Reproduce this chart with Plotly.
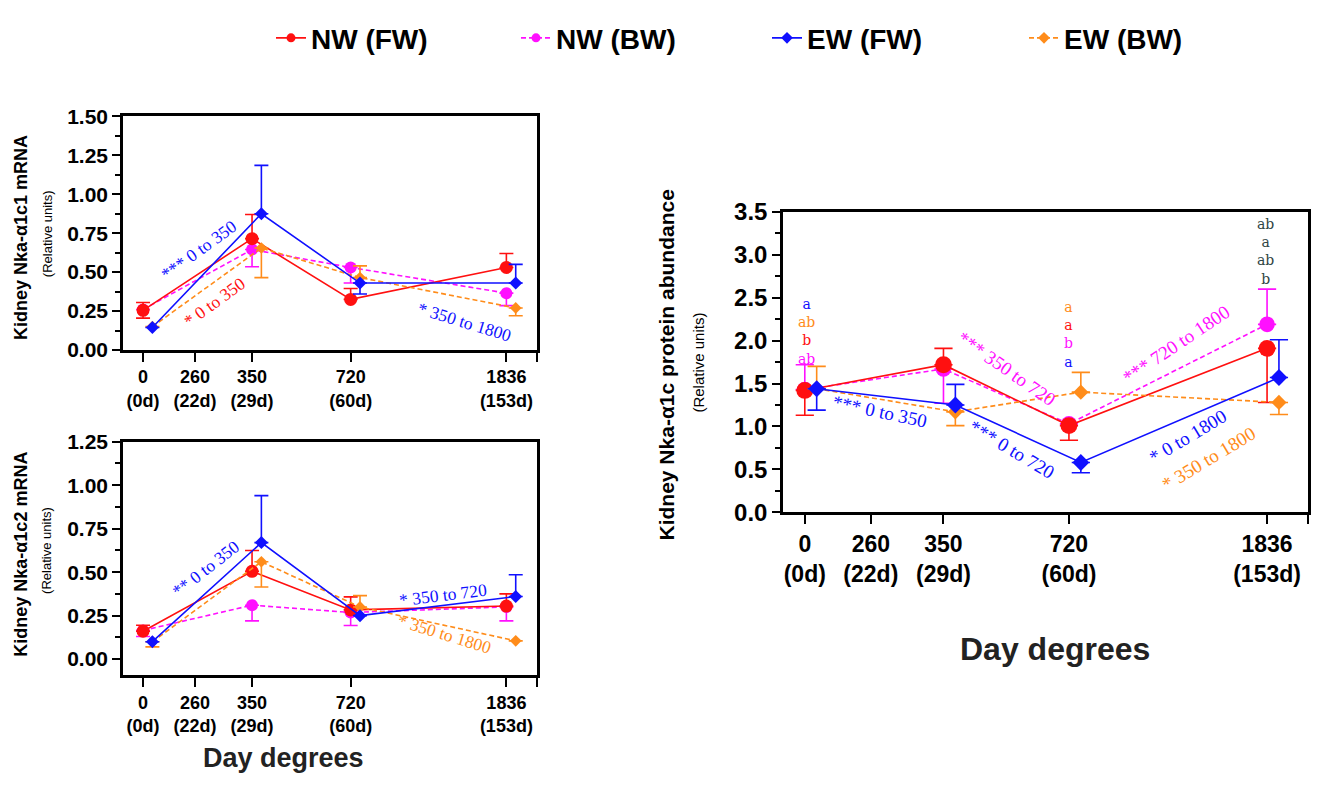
import plotly.graph_objects as go

# ---------------- data ----------------
tick_dd = [0, 260, 350, 720, 1836]
tick_days = ["0d", "22d", "29d", "60d", "153d"]
tick_pos = [0, 1, 2.1, 4, 7]          # category positions on the x axis
sample_dd = [0, 350, 720, 1836]
series = ["NW (FW)", "NW (BW)", "EW (FW)", "EW (BW)"]

# Kidney Nka-α1c1 mRNA (top left)
c1_nw_fw = [0.255, 0.715, 0.325, 0.53]
c1_nw_fw_up = [0.05, 0.155, 0.07, 0.09]
c1_nw_fw_dn = [0.05, 0.0, 0.0, 0.0]
c1_nw_bw = [0.26, 0.645, 0.53, 0.365]
c1_nw_bw_up = [0.0, 0.0, 0.0, 0.0]
c1_nw_bw_dn = [0.0, 0.11, 0.10, 0.08]
c1_ew_fw = [0.145, 0.875, 0.43, 0.43]
c1_ew_fw_up = [0.0, 0.31, 0.0, 0.12]
c1_ew_fw_dn = [0.0, 0.0, 0.07, 0.0]
c1_ew_bw = [0.15, 0.655, 0.465, 0.27]
c1_ew_bw_up = [0.0, 0.0, 0.075, 0.0]
c1_ew_bw_dn = [0.0, 0.19, 0.0, 0.05]

# Kidney Nka-α1c2 mRNA (bottom left)
c2_nw_fw = [0.16, 0.505, 0.283, 0.305]
c2_nw_fw_up = [0.035, 0.12, 0.075, 0.07]
c2_nw_fw_dn = [0.0, 0.0, 0.0, 0.0]
c2_nw_bw = [0.165, 0.31, 0.268, 0.30]
c2_nw_bw_up = [0.0, 0.0, 0.0, 0.0]
c2_nw_bw_dn = [0.035, 0.09, 0.075, 0.08]
c2_ew_fw = [0.10, 0.67, 0.25, 0.36]
c2_ew_fw_up = [0.0, 0.27, 0.0, 0.125]
c2_ew_fw_dn = [0.0, 0.0, 0.0, 0.0]
c2_ew_bw = [0.10, 0.56, 0.30, 0.105]
c2_ew_bw_up = [0.0, 0.0, 0.065, 0.0]
c2_ew_bw_dn = [0.03, 0.145, 0.0, 0.0]

# Kidney Nka-α1c protein abundance (right)
pr_nw_fw = [1.42, 1.72, 1.01, 1.91]
pr_nw_fw_up = [0.0, 0.19, 0.0, 0.0]
pr_nw_fw_dn = [0.29, 0.0, 0.17, 0.63]
pr_nw_bw = [1.43, 1.67, 1.03, 2.19]
pr_nw_bw_up = [0.29, 0.0, 0.0, 0.41]
pr_nw_bw_dn = [0.0, 0.40, 0.0, 0.0]
pr_ew_fw = [1.44, 1.25, 0.58, 1.57]
pr_ew_fw_up = [0.0, 0.24, 0.0, 0.44]
pr_ew_fw_dn = [0.25, 0.0, 0.12, 0.0]
pr_ew_bw = [1.44, 1.17, 1.40, 1.28]
pr_ew_bw_up = [0.26, 0.0, 0.23, 0.0]
pr_ew_bw_dn = [0.0, 0.16, 0.0, 0.14]

# significance notes (text, colour of series)
c1_notes = [("*** 0 to 350", "EW (FW)"), ("* 0 to 350", "NW (FW)"),
            ("* 350 to 1800", "EW (FW)")]
c2_notes = [("** 0 to 350", "EW (FW)"), ("* 350 to 720", "EW (FW)"),
            ("* 350 to 1800", "EW (BW)")]
pr_notes = [("*** 0 to 350", "EW (FW)"), ("*** 350 to 720", "NW (BW)"),
            ("*** 0 to 720", "EW (FW)"), ("*** 720 to 1800", "NW (BW)"),
            ("* 0 to 1800", "EW (FW)"), ("* 350 to 1800", "EW (BW)")]
# letters of significance in the protein panel (top to bottom)
pr_letters_0 = [("a", "EW (FW)"), ("ab", "EW (BW)"), ("b", "NW (FW)"), ("ab", "NW (BW)")]
pr_letters_720 = [("a", "EW (BW)"), ("a", "NW (FW)"), ("b", "NW (BW)"), ("a", "EW (FW)")]
pr_letters_1836 = ["ab", "a", "ab", "b"]

# ---------------- styles / placement ----------------
W, H = 1322, 785
styles = {
    "NW (FW)": dict(color="#ff1010", dash="solid", symbol="circle", off=0.0, size=13),
    "NW (BW)": dict(color="#ff10ff", dash="5px,3px", symbol="circle", off=0.0, size=12),
    "EW (FW)": dict(color="#1010ff", dash="solid", symbol="diamond", off=0.18, size=10),
    "EW (BW)": dict(color="#ff8c1a", dash="5px,3px", symbol="diamond", off=0.18, size=9),
}
# (x, y, angle) placement of the notes in each panel's axis units
c1_note_place = [(1.08, 0.64, -36), (1.38, 0.31, -36), (6.2, 0.18, 17)]
c2_note_place = [(1.2, 0.52, -38), (5.77, 0.37, -7), (5.81, 0.145, 17)]
pr_note_place = [(1.14, 1.17, 12), (3.05, 1.67, 35), (3.14, 0.73, 31),
                 (5.62, 1.96, -34), (5.8, 0.88, -31), (6.12, 0.63, -31)]
pr_letters_y = [2.105, 2.067, 3.035]   # centre of each stack

pos_of = dict(zip(tick_dd, tick_pos))
FONT = "Liberation Sans, Arial, sans-serif"
SERIF = "Liberation Serif, DejaVu Serif, serif"

fig = go.Figure()

panels = [
    ("", 1.0, {"NW (FW)": (c1_nw_fw, c1_nw_fw_up, c1_nw_fw_dn),
               "NW (BW)": (c1_nw_bw, c1_nw_bw_up, c1_nw_bw_dn),
               "EW (FW)": (c1_ew_fw, c1_ew_fw_up, c1_ew_fw_dn),
               "EW (BW)": (c1_ew_bw, c1_ew_bw_up, c1_ew_bw_dn)}),
    ("2", 1.0, {"NW (FW)": (c2_nw_fw, c2_nw_fw_up, c2_nw_fw_dn),
                "NW (BW)": (c2_nw_bw, c2_nw_bw_up, c2_nw_bw_dn),
                "EW (FW)": (c2_ew_fw, c2_ew_fw_up, c2_ew_fw_dn),
                "EW (BW)": (c2_ew_bw, c2_ew_bw_up, c2_ew_bw_dn)}),
    ("3", 1.3, {"NW (FW)": (pr_nw_fw, pr_nw_fw_up, pr_nw_fw_dn),
                "NW (BW)": (pr_nw_bw, pr_nw_bw_up, pr_nw_bw_dn),
                "EW (FW)": (pr_ew_fw, pr_ew_fw_up, pr_ew_fw_dn),
                "EW (BW)": (pr_ew_bw, pr_ew_bw_up, pr_ew_bw_dn)}),
]
draw_order = ["NW (BW)", "NW (FW)", "EW (BW)", "EW (FW)"]
for suffix, scale, data in panels:
    for name in draw_order:
        y, up, dn = data[name]
        st = styles[name]
        fig.add_trace(go.Scatter(
            x=[pos_of[d] + st["off"] for d in sample_dd], y=y,
            xaxis="x" + suffix, yaxis="y" + suffix,
            mode="lines+markers", name=name, showlegend=False,
            line=dict(color=st["color"], width=1.6, dash=st["dash"]),
            marker=dict(color=st["color"], symbol=st["symbol"], size=st["size"] * scale,
                        line=dict(width=0)),
            error_y=dict(type="data", symmetric=False, array=up, arrayminus=dn,
                         color=st["color"], thickness=1.6, width=7 * scale),
        ))

# legend entries (one legend box per series)
legend_px = [287, 532, 783, 1040]
for i, name in enumerate(series):
    st = styles[name]
    lg = "legend" if i == 0 else f"legend{i + 1}"
    fig.add_trace(go.Scatter(
        x=[None], y=[None], name=name, mode="lines+markers", legend=lg,
        line=dict(color=st["color"], width=1.6, dash=st["dash"]),
        marker=dict(color=st["color"], symbol=st["symbol"], size=9),
        showlegend=True))

legend_layout = {}
for i in range(4):
    key = "legend" if i == 0 else f"legend{i + 1}"
    legend_layout[key] = dict(
        x=(legend_px[i] - 16) / W, xanchor="left", y=1 - 25 / H, yanchor="middle",
        orientation="h", bgcolor="rgba(0,0,0,0)", borderwidth=0,
        font=dict(family=FONT, size=28, color="black", weight="bold"),
        itemwidth=30)


def dom_x(a, b):
    return [a / W, b / W]


def dom_y(top, bottom):
    return [1 - bottom / H, 1 - top / H]


def xaxis(domain, rng, size, anchor):
    return dict(domain=domain, range=rng, anchor=anchor, tickmode="array",
                tickvals=tick_pos + [rng[1]],
                ticktext=[f"{d}<br>({t})" for d, t in zip(tick_dd, tick_days)] + [""],
                showline=True, linecolor="black",
                linewidth=2.5, mirror=True, ticks="outside", ticklen=9, tickwidth=2,
                tickcolor="black", showgrid=False, zeroline=False,
                tickfont=dict(family=FONT, size=size, color="black", weight="bold"))


def yaxis(domain, rng, dtick, fmt, minor, size, anchor):
    return dict(domain=domain, range=rng, anchor=anchor, dtick=dtick, tick0=0,
                tickformat=fmt, showline=True, linecolor="black", linewidth=2.5,
                mirror=True, ticks="outside", ticklen=8, tickwidth=2, tickcolor="black",
                showgrid=False, zeroline=False,
                minor=dict(dtick=minor, ticks="outside", ticklen=5, tickwidth=1.5,
                           tickcolor="black", showgrid=False),
                tickfont=dict(family=FONT, size=size, color="black", weight="bold"))


fig.update_layout(
    width=W, height=H, margin=dict(l=0, r=0, t=0, b=0),
    paper_bgcolor="white", plot_bgcolor="white",
    xaxis=xaxis(dom_x(123, 537), [-0.386, 7.59], 18, "y"),
    yaxis=yaxis(dom_y(106, 348), [0, 1.5], 0.25, ".2f", 0.125, 21, "x"),
    xaxis2=xaxis(dom_x(123, 537), [-0.386, 7.59], 18, "y2"),
    yaxis2=yaxis(dom_y(443, 685), [-0.094, 1.25], 0.25, ".2f", 0.125, 21, "x2"),
    xaxis3=xaxis(dom_x(783, 1308), [-0.33, 7.62], 23, "y3"),
    yaxis3=yaxis(dom_y(205, 516), [0, 3.5], 0.5, ".1f", 0.25, 24, "x3"),
    **legend_layout,
)

ann = []
for notes, places, suffix, fs in [(c1_notes, c1_note_place, "", 17.5),
                                  (c2_notes, c2_note_place, "2", 17.5),
                                  (pr_notes, pr_note_place, "3", 19)]:
    for (text, key), (x, y, ang) in zip(notes, places):
        ann.append(dict(text=text, x=x, y=y, xref="x" + suffix, yref="y" + suffix,
                        showarrow=False, textangle=ang,
                        font=dict(family=SERIF, size=fs, color=styles[key]["color"])))


def stack(letters):
    return "<br>".join(f"<span style='color:{styles[k]['color']}'>{t}</span>"
                       for t, k in letters)


LETTER_FONT = dict(family="DejaVu Serif, serif", size=14)
ann.append(dict(text=stack(pr_letters_0), x=pos_of[0] + 0.03, y=pr_letters_y[0],
                xref="x3", yref="y3", showarrow=False, font=LETTER_FONT))
ann.append(dict(text=stack(pr_letters_720), x=pos_of[720], y=pr_letters_y[1],
                xref="x3", yref="y3", showarrow=False, font=LETTER_FONT))
ann.append(dict(text="<br>".join(pr_letters_1836), x=pos_of[1836] - 0.02, y=pr_letters_y[2],
                xref="x3", yref="y3", showarrow=False,
                font=dict(LETTER_FONT, color="#2f4545")))


def ptitle(text, xpx, ypx, size, bold=True, angle=-90, color="black"):
    return dict(text=text, x=xpx / W, y=1 - ypx / H, xref="paper", yref="paper",
                showarrow=False, textangle=angle, xanchor="center", yanchor="middle",
                font=dict(family=FONT, size=size, color=color,
                          weight="bold" if bold else "normal"))


ann += [
    ptitle("Kidney Nka-α1c1 mRNA", 21, 232, 18),
    ptitle("(Relative units)", 47, 228, 13, bold=False),
    ptitle("Kidney Nka-α1c2 mRNA", 21, 560, 18),
    ptitle("(Relative units)", 47, 556, 13, bold=False),
    ptitle("Kidney Nka-α1c protein abundance", 666, 364, 21),
    ptitle("(Relative units)", 699, 361, 15, bold=False),
    ptitle("Day degrees", 283, 771, 27, angle=0, color="#222222"),
    ptitle("Day degrees", 1055, 658, 32, angle=0, color="#222222"),
]
fig.update_layout(annotations=ann)

fig.write_html("out.html")
